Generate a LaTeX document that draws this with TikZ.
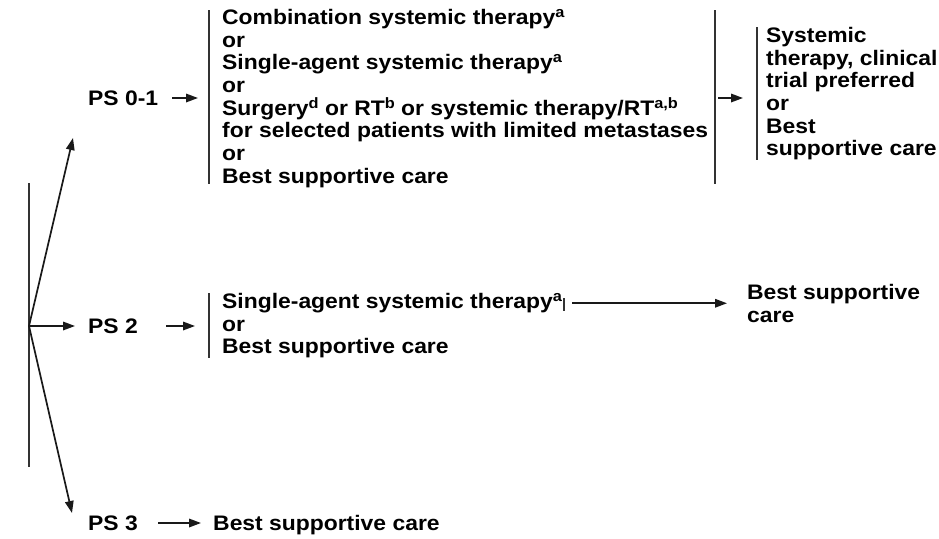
\documentclass[tikz,border=0pt]{standalone}
\usepackage{fontspec}
\setmainfont{Liberation Sans}[FakeStretch=1.09]
\usetikzlibrary{positioning, arrows.meta}
\newcommand{\supnote}[1]{\raisebox{7pt}{\fontsize{15}{15}\selectfont #1}}
\definecolor{linegray}{HTML}{333333}
\tikzstyle{lbl}=[inner sep=0pt, font=\fontsize{21}{22.7}\selectfont\bfseries]
\tikzstyle{opts}=[lbl, align=left, anchor=north west]
\tikzstyle{bar}=[draw=linegray, line width=2pt]
\tikzstyle{flow}=[-{Triangle[length=12pt,width=8.5pt]}, draw=black!90, line width=1.7pt]

\begin{document}
\begin{tikzpicture}[x=1pt, y=-1pt, node distance=1em and 1em]
\useasboundingbox (0,0) rectangle (939,538);

% trunk splitting by performance status
\coordinate (top) at (29,183);
\coordinate (bot) at (29,467);
\coordinate (fork) at (29,326);
\draw[bar] (top) -- (bot);

\node[lbl, anchor=west](ps01) at (88,98){PS 0-1};
\node[lbl, anchor=west](ps2) at (88,326){PS 2};
\node[lbl, anchor=west](ps3) at (88,523){PS 3};
\coordinate (up) at (73,138);
\coordinate (down) at (72,513);

\draw[flow] (fork) -- (up);
\draw[flow, shorten >=13pt] (fork) -- (ps2.west);
\draw[flow] (fork) -- (down);

% PS 0-1
\node[opts](opt01) at (222,9){Combination systemic therapy\supnote{a}\\
  or\\
  Single-agent systemic therapy\supnote{a}\\
  or\\
  Surgery\supnote{d} or RT\supnote{b} or systemic therapy/RT\supnote{a,b}\\
  for selected patients with limited metastases\\
  or\\
  Best supportive care};
\node[opts](sys) at (766,27){Systemic\\ therapy, clinical\\ trial preferred\\ or\\ Best\\ supportive care};

\draw[bar, shorten <=1pt, shorten >=4pt] ([xshift=-13pt]opt01.north west) -- ([xshift=-13pt]opt01.south west);
\draw[bar, shorten <=1pt, shorten >=4pt] ([xshift=7pt]opt01.north east) -- ([xshift=7pt]opt01.south east);
\draw[bar] ([xshift=-9pt]sys.north west) -- ([xshift=-9pt]sys.south west);

\draw[flow, shorten <=14pt, shorten >=24pt] (ps01.east) -- (ps01.east -| opt01.west);
\draw[flow, shorten <=10pt, shorten >=23pt] (ps01.east -| opt01.east) -- (ps01.east -| sys.west);

% PS 2
\node[opts](opt2) at (222,293){Single-agent systemic therapy\supnote{a}\\ or\\ Best supportive care};
\node[opts](bsc2) at (747,284){Best supportive\\ care};

\draw[bar] ([xshift=-13pt]opt2.north west) -- ([xshift=-13pt]opt2.south west);
\draw[bar, line width=1.6pt] ([xshift=2pt, yshift=-5pt]opt2.north east) -- ([xshift=2pt, yshift=-18pt]opt2.north east);

\draw[flow, shorten <=28pt, shorten >=27pt] (ps2.east) -- (ps2.east -| opt2.west);
\draw[flow, shorten <=10pt, shorten >=20pt] (bsc2.west -| opt2.east) -- (bsc2.west);

% PS 3
\node[lbl, base right=75pt of ps3](bsc3){Best supportive care};
\draw[flow, shorten <=20pt, shorten >=12pt] (ps3.east) -- (ps3.east -| bsc3.west);

\end{tikzpicture}
\end{document}
